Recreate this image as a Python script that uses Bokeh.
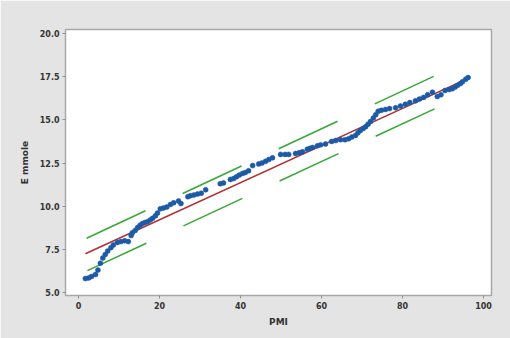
from bokeh.plotting import figure
from bokeh.models import Range1d, FixedTicker, NumeralTickFormatter, ColumnDataSource
from bokeh.embed import file_html
from bokeh.resources import INLINE

# Quantile points (PMI percent, E mmole)
pmi = [1.7, 2.5, 3.2, 4.2, 4.8, 5.4, 6.0, 6.6, 7.2, 8.0, 8.6, 9.6, 10.5, 11.4, 12.3,
       13.0, 13.3, 14.0, 14.6, 15.2, 15.8, 16.4, 17.0, 17.7, 18.3, 19.0, 19.5, 20.2,
       21.0, 21.8, 22.7, 23.5, 24.7, 25.3, 27.0, 27.6, 28.5, 29.4, 30.3, 31.4, 35.0,
       35.8, 37.5, 38.3, 39.0, 39.7, 40.5, 41.2, 42.0, 43.0, 44.5, 45.3, 46.2, 47.0,
       47.9, 49.9, 51.0, 51.9, 53.6, 54.5, 55.3, 56.5, 57.2, 57.8, 59.0, 59.8, 61.0,
       62.5, 63.5, 64.7, 65.8, 66.7, 67.5, 68.4, 69.0, 69.6, 70.3, 70.9, 71.5, 72.1,
       72.8, 73.4, 74.0, 74.8, 75.8, 76.8, 78.3, 79.5, 80.7, 81.8, 83.2, 84.2, 85.2,
       86.2, 87.4, 88.6, 89.5, 90.5, 91.5, 92.3, 93.0, 93.6, 94.3, 94.8, 95.6, 96.2]
e_mmole = [5.81, 5.85, 5.93, 6.05, 6.3, 6.7, 7.0, 7.2, 7.4, 7.6, 7.75, 7.9, 7.95, 8.0, 7.95,
           8.3, 8.47, 8.6, 8.76, 8.9, 9.0, 9.05, 9.1, 9.2, 9.3, 9.45, 9.6, 9.85,
           9.9, 9.95, 10.1, 10.2, 10.3, 10.15, 10.55, 10.6, 10.65, 10.7, 10.75, 10.95, 11.3,
           11.35, 11.55, 11.6, 11.7, 11.8, 11.9, 11.95, 12.05, 12.35, 12.45, 12.5, 12.6, 12.7,
           12.8, 13.0, 13.0, 13.0, 13.05, 13.1, 13.15, 13.3, 13.35, 13.4, 13.5, 13.55, 13.6,
           13.75, 13.8, 13.85, 13.85, 13.9, 14.0, 14.1, 14.25, 14.38, 14.5, 14.6, 14.75, 14.9,
           15.1, 15.3, 15.5, 15.55, 15.6, 15.65, 15.7, 15.8, 15.9, 16.0, 16.1, 16.2, 16.3,
           16.45, 16.6, 16.35, 16.45, 16.7, 16.75, 16.8, 16.9, 17.0, 17.1, 17.2, 17.35, 17.45]

# Fitted distribution line
fit_x = [1.7, 96.2]
fit_y = [7.25, 17.4]

# Confidence bounds
ci_up_x = [2.0, 88.1]
ci_up_y = [8.14, 17.56]
ci_lo_x = [2.2, 88.6]
ci_lo_y = [6.27, 15.71]

x_ticks = [0, 20, 40, 60, 80, 100]
y_ticks = [5.0, 7.5, 10.0, 12.5, 15.0, 17.5, 20.0]

p = figure(width=510, height=338, output_backend="svg", toolbar_location=None,
           x_range=Range1d(-3.21, 101.98), y_range=Range1d(4.83, 20.23),
           min_border_left=65, min_border_right=19, min_border_top=29, min_border_bottom=43)
p.frame_width = 426
p.frame_height = 266

p.background_fill_color = "white"
p.border_fill_color = "#e4e4e4"
p.outline_line_color = "#a8a8a8"
p.outline_line_width = 1.5
p.grid.visible = False

green = "#3aa83a"
p.line(ci_up_x, ci_up_y, line_color=green, line_width=1.6, line_dash="65 41")
p.line(ci_lo_x, ci_lo_y, line_color=green, line_width=1.6, line_dash="65 41")
p.line(fit_x, fit_y, line_color="#b03232", line_width=1.6)

src = ColumnDataSource(dict(x=pmi, y=e_mmole))
p.scatter("x", "y", source=src, size=5, fill_color="#1c5aa8", line_color="#1c5aa8", line_width=0.5)

for ax in (p.xaxis[0], p.yaxis[0]):
    ax.axis_line_color = None
    ax.major_tick_line_color = "#909090"
    ax.major_tick_out = 3
    ax.major_tick_in = 0
    ax.minor_tick_line_color = None
    ax.major_label_text_font = "DejaVu Sans"
    ax.major_label_text_font_style = "bold"
    ax.major_label_text_font_size = "8px"
    ax.major_label_text_color = "#333333"
    ax.axis_label_text_font = "DejaVu Sans"
    ax.axis_label_text_font_style = "bold"
    ax.axis_label_text_font_size = "9px"
    ax.axis_label_text_color = "#333333"
    ax.major_label_standoff = 3

p.xaxis[0].ticker = FixedTicker(ticks=x_ticks)
p.yaxis[0].ticker = FixedTicker(ticks=y_ticks)
p.yaxis[0].formatter = NumeralTickFormatter(format="0.0")
p.xaxis[0].axis_label = "PMI"
p.yaxis[0].axis_label = "E mmole"
p.xaxis[0].axis_label_standoff = 5
p.yaxis[0].axis_label_standoff = 7

open("out.html", "w").write(file_html(p, INLINE))
